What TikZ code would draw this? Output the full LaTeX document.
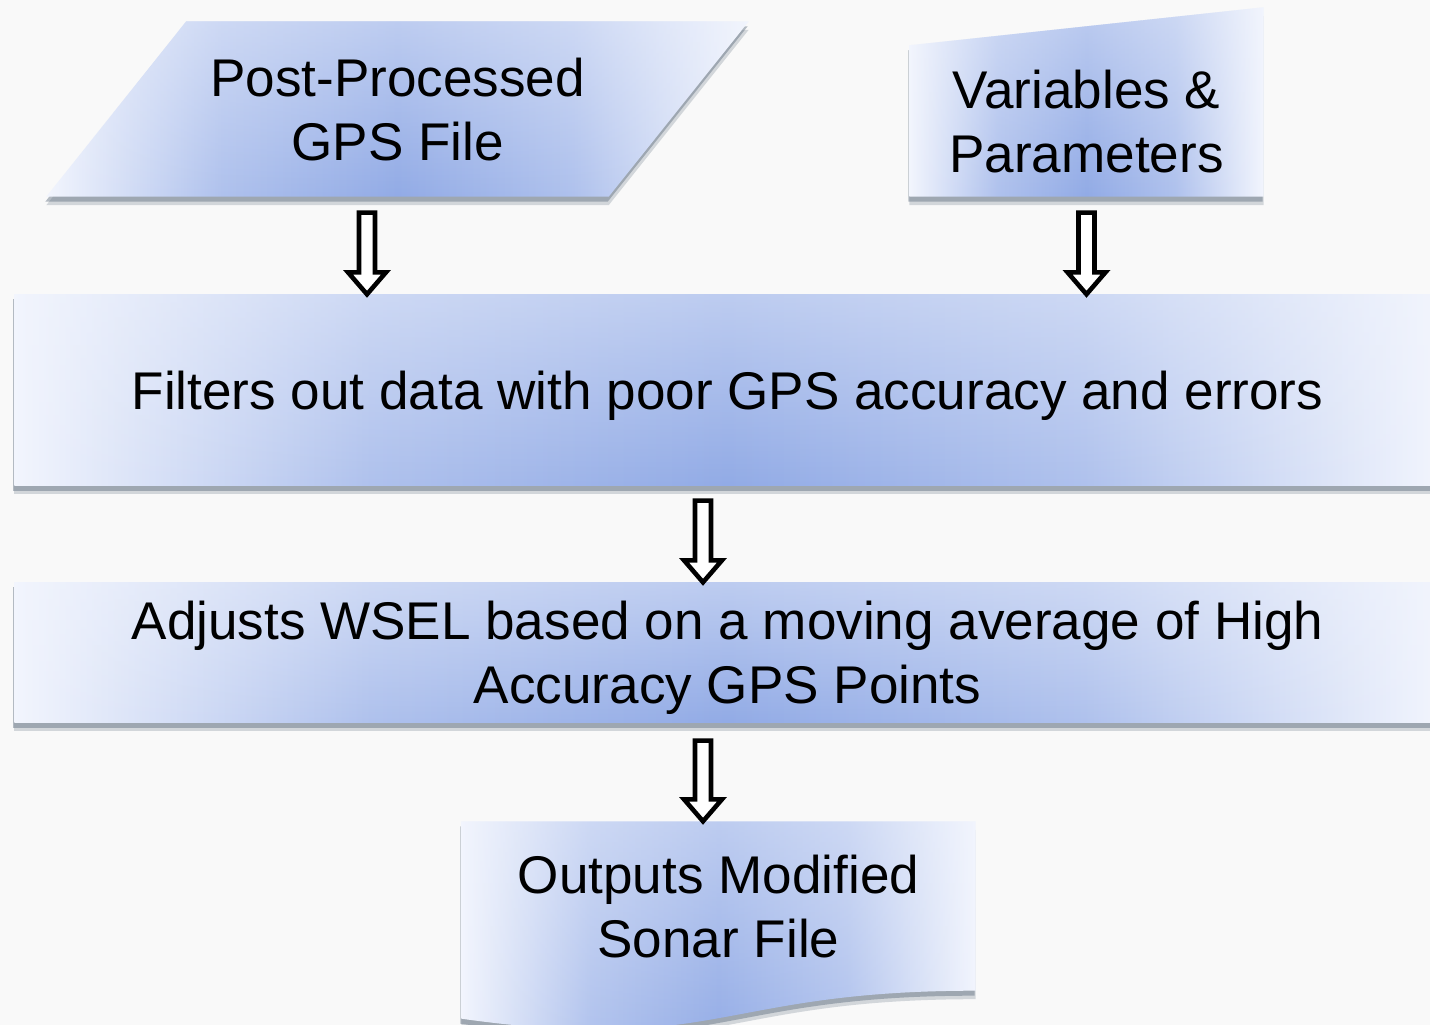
\documentclass[tikz,border=0pt]{standalone}
\usepackage{fontspec}
\setmainfont{Liberation Sans}
\usepackage{tikz}
\usetikzlibrary{calc,shadows,backgrounds,fadings}

\definecolor{flowmid}{RGB}{146,171,230}
\definecolor{flowedge}{RGB}{242,245,253}
\definecolor{shadowblue}{RGB}{95,110,128}
\definecolor{paper}{RGB}{249,249,249}

\pgfdeclarehorizontalshading{flowband}{100bp}{color(0bp)=(flowedge); color(25bp)=(flowedge);
  color(37.5bp)=(flowmid!70!flowedge); color(50bp)=(flowmid); color(62.5bp)=(flowmid!70!flowedge);
  color(75bp)=(flowedge); color(100bp)=(flowedge)}
\tikzfading[name=fadedown,top color=transparent!55,bottom color=transparent!100]

\tikzset{
  flowtext/.style={inner sep=0pt,align=center,text depth=0pt,
    font=\fontsize{15.1}{18.2}\selectfont},
  flowfill/.style={shading=flowband,
    drop shadow={shadow xshift=0mm,shadow yshift=-0.85mm,fill=shadowblue,opacity=0.25},
    drop shadow={shadow xshift=-0.1mm,shadow yshift=-0.5mm,fill=shadowblue,opacity=0.45},
    postaction={fill=flowedge,path fading=fadedown}},
  blockarrow/.style={draw=black,fill=white,line width=1.3pt,line join=miter,
    to path={let \p1=(\tikztostart), \p2=(\tikztotarget) in
      (\x1-0.8mm,\y1) -- (\x1-0.8mm,\y2+2.2mm) -- (\x1-1.9mm,\y2+2.2mm) -- (\x1,\y2)
      -- (\x1+1.9mm,\y2+2.2mm) -- (\x1+0.8mm,\y2+2.2mm) -- (\x1+0.8mm,\y1) -- cycle}}
}

\begin{document}
\begin{tikzpicture}[x=0.1mm,y=-0.1mm]
\useasboundingbox (0,0) rectangle (1430,1025);

% boxes of the flow
\node[flowtext,minimum width=70.1mm,minimum height=17.4mm] (gps) at (397.5,109) {Post-Processed\\GPS File};
\node[flowtext,minimum width=35.3mm,minimum height=15mm] (vars) at (1086.5,121) {Variables \&\\Parameters};
\node[flowtext,minimum width=142.5mm,minimum height=19mm] (filter) at (727.5,390) {Filters out data with poor GPS accuracy and errors};
\node[flowtext,minimum width=142.5mm,minimum height=13.9mm] (adjust) at (727.5,652.5) {Adjusts WSEL based on a moving average of High\\Accuracy GPS Points};
\node[flowtext,minimum width=51.3mm,minimum height=16.8mm] (doc) at (718.5,906) {Outputs Modified\\Sonar File};

\begin{scope}[on background layer]
  \fill[paper] (0,0) rectangle (1430,1025);
  \path[flowfill] (gps.south west) -- ($(gps.north west)+(140,0)$) -- (gps.north east) -- ($(gps.south east)+(-140,0)$) -- cycle;
  \path[flowfill] (vars.south west) -- (vars.north west) -- ($(vars.north east)+(0,-38)$) -- (vars.south east) -- cycle;
  \path[flowfill] (filter.south west) rectangle (filter.north east);
  \path[flowfill] (adjust.south west) rectangle (adjust.north east);
  \path[flowfill] (doc.north west) -- (doc.north east) -- (doc.south east)
    .. controls (doc.south) and ($(doc.south)+(0,64)$) .. ($(doc.south west)+(0,28)$) -- cycle;
\end{scope}

% arrows
\draw[blockarrow] ($(gps.south)+(-30.5,16)$) to ($(gps.south |- filter.north)+(-30.5,0)$);
\draw[blockarrow] ($(vars.south)+(0,16)$) to (vars.south |- filter.north);
\draw[blockarrow] ($(filter.south)+(-24.5,15)$) to ($(filter.south |- adjust.north)+(-24.5,0)$);
\draw[blockarrow] ($(adjust.south)+(-24.5,18)$) to ($(adjust.south |- doc.north)+(-24.5,0)$);
\end{tikzpicture}
\end{document}
